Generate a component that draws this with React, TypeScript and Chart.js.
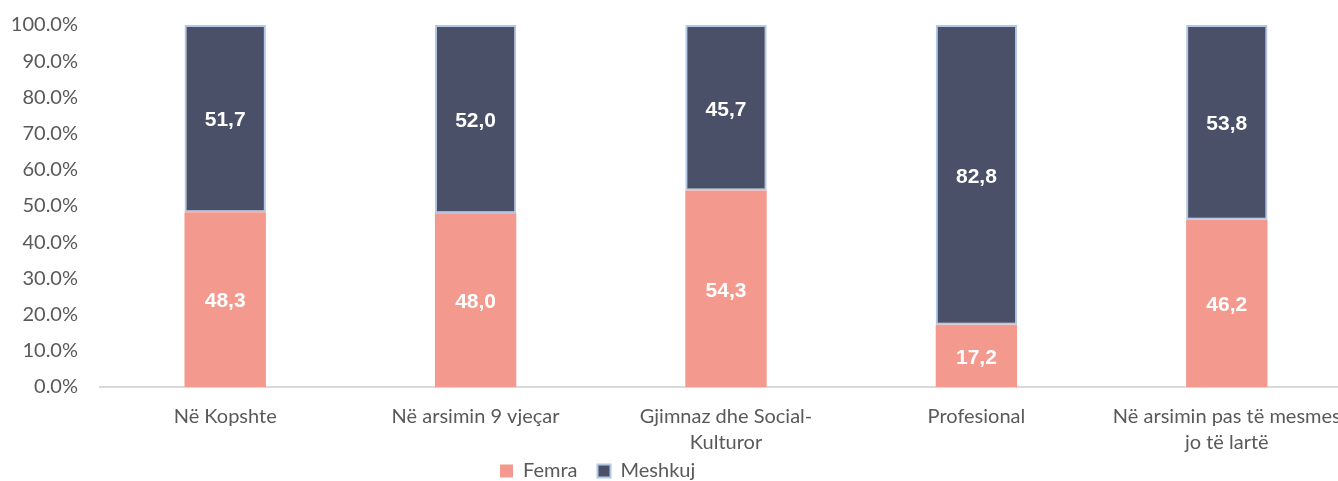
import React, { useEffect, useRef } from "react";
import { Chart, registerables } from "chart.js";

Chart.register(...registerables);

const categories: (string | string[])[] = [
  "Në Kopshte",
  "Në arsimin 9 vjeçar",
  ["Gjimnaz dhe Social-", "Kulturor"],
  "Profesional",
  ["Në arsimin pas të mesmes", "jo të lartë"],
];
const femraValues = [48.3, 48.0, 54.3, 17.2, 46.2];
const meshkujValues = [51.7, 52.0, 45.7, 82.8, 53.8];
const yTicks = [0, 10, 20, 30, 40, 50, 60, 70, 80, 90, 100];

const FONT = "Lato, 'Open Sans', sans-serif";

const valueLabels = {
  id: "valueLabels",
  afterDatasetsDraw(chart: any) {
    const ctx = chart.ctx;
    ctx.save();
    ctx.fillStyle = "#ffffff";
    ctx.font = "bold 21px 'Liberation Sans', Arial, sans-serif";
    ctx.textAlign = "center";
    ctx.textBaseline = "middle";
    chart.data.datasets.forEach((ds: any, di: number) => {
      const meta = chart.getDatasetMeta(di);
      meta.data.forEach((el: any, i: number) => {
        const v = ds.data[i] as number;
        const cy = (el.y + el.base) / 2;
        ctx.fillText(v.toFixed(1).replace(".", ","), el.x, cy + 2);
      });
    });
    ctx.restore();
  },
};

const legendShift = {
  id: "legendShift",
  afterLayout(chart: any) {
    const lg = chart.legend;
    if (lg) {
      const w = lg.right - lg.left;
      lg.left = 480;
      lg.right = 480 + w;
      lg.top -= 18;
      lg.bottom -= 18;
    }
  },
};

export default function App() {
  const ref = useRef<HTMLCanvasElement | null>(null);
  useEffect(() => {
    if (!ref.current) return;
    const chart = new Chart(ref.current, {
      type: "bar",
      data: {
        labels: categories,
        datasets: [
          {
            label: "Femra",
            data: femraValues,
            backgroundColor: "#F4998D",
            borderWidth: 0,
            barPercentage: 0.65,
            categoryPercentage: 0.5,
          },
          {
            label: "Meshkuj",
            data: meshkujValues,
            backgroundColor: "#4A5068",
            borderColor: "#B4C7E7",
            borderWidth: 2,
            borderSkipped: false,
            barPercentage: 0.65,
            categoryPercentage: 0.5,
          },
        ],
      },
      options: {
        responsive: true,
        maintainAspectRatio: false,
        animation: false,
        layout: { padding: { top: 25, right: 48, left: 0, bottom: 0 } },
        plugins: {
          tooltip: { enabled: false },
          legend: {
            position: "bottom",
            align: "start",
            labels: {
              boxWidth: 13,
              boxHeight: 13,
              padding: 20,
              color: "#595959",
              font: { family: FONT, size: 20 },
            },
          },
        },
        scales: {
          x: {
            stacked: true,
            grid: { display: false, drawTicks: false },
            border: { display: true, color: "#D9D9D9", width: 2 },
            ticks: {
              autoSkip: false,
              maxRotation: 0,
              minRotation: 0,
              padding: 17,
              color: "#595959",
              font: { family: FONT, size: 20, lineHeight: 1.3 },
            },
            afterFit(scale: any) {
              scale.height = 72;
            },
          },
          y: {
            stacked: true,
            min: 0,
            max: 100,
            afterBuildTicks(scale: any) {
              scale.ticks = yTicks.map((v) => ({ value: v }));
            },
            grid: { display: false, drawTicks: false },
            border: { display: false },
            ticks: {
              padding: 22,
              color: "#595959",
              font: { family: FONT, size: 20 },
              callback: (v: any) => Number(v).toFixed(1) + "%",
            },
            afterFit(scale: any) {
              scale.width = 100;
              scale.paddingTop = 0;
            },
          },
        },
      },
      plugins: [valueLabels, legendShift],
    });
    return () => chart.destroy();
  }, []);
  return (
    <div
      style={{
        position: "fixed",
        left: 0,
        top: 0,
        width: 1338,
        height: 481,
        overflow: "hidden",
        background: "#ffffff",
      }}
    >
      <div style={{ position: "absolute", left: 0, top: 0, width: 1400, height: 509 }}>
        <canvas ref={ref} />
      </div>
    </div>
  );
}
